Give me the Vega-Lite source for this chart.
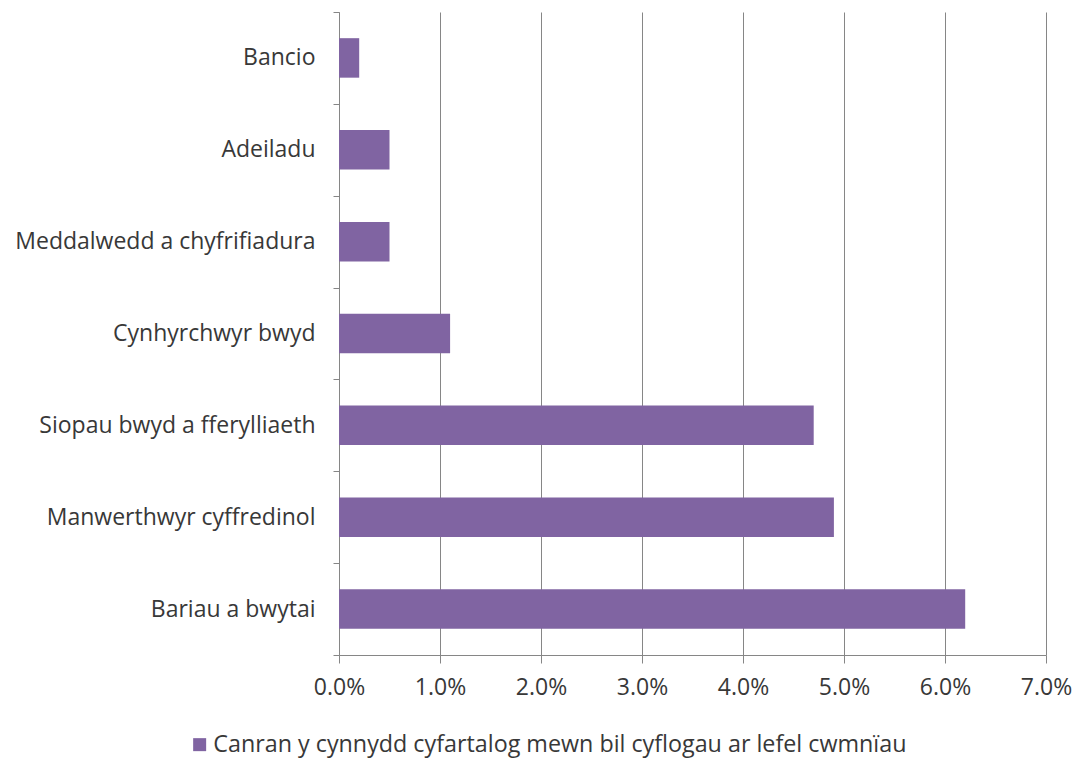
{
  "$schema": "https://vega.github.io/schema/vega-lite/v6.json",
  "width": 707,
  "height": 643,
  "autosize": {"type": "none"},
  "padding": {"left": 339, "top": 12, "right": 30, "bottom": 103},
  "background": "white",
  "config": {
    "view": {"stroke": null},
    "font": "Open Sans"
  },
  "data": {
    "values": [
      {"sector": "Bancio", "value": 0.002, "series": "Canran y cynnydd cyfartalog mewn bil cyflogau ar lefel cwmnïau"},
      {"sector": "Adeiladu", "value": 0.005, "series": "Canran y cynnydd cyfartalog mewn bil cyflogau ar lefel cwmnïau"},
      {"sector": "Meddalwedd a chyfrifiadura", "value": 0.005, "series": "Canran y cynnydd cyfartalog mewn bil cyflogau ar lefel cwmnïau"},
      {"sector": "Cynhyrchwyr bwyd", "value": 0.011, "series": "Canran y cynnydd cyfartalog mewn bil cyflogau ar lefel cwmnïau"},
      {"sector": "Siopau bwyd a fferylliaeth", "value": 0.047, "series": "Canran y cynnydd cyfartalog mewn bil cyflogau ar lefel cwmnïau"},
      {"sector": "Manwerthwyr cyffredinol", "value": 0.049, "series": "Canran y cynnydd cyfartalog mewn bil cyflogau ar lefel cwmnïau"},
      {"sector": "Bariau a bwytai", "value": 0.062, "series": "Canran y cynnydd cyfartalog mewn bil cyflogau ar lefel cwmnïau"}
    ]
  },
  "mark": {"type": "bar", "height": {"band": 0.43}},
  "encoding": {
    "y": {
      "field": "sector",
      "type": "nominal",
      "sort": null,
      "scale": {"paddingInner": 0, "paddingOuter": 0},
      "axis": {
        "title": null,
        "tickBand": "extent",
        "tickSize": 6,
        "tickColor": "#868686",
        "domainColor": "#868686",
        "labelPadding": 18,
        "labelFontSize": 23,
        "labelLimit": 400,
        "labelColor": "#383838",
        "labelFont": "Open Sans",
        "grid": false
      }
    },
    "x": {
      "field": "value",
      "type": "quantitative",
      "scale": {"domain": [0, 0.07], "nice": false},
      "axis": {
        "title": null,
        "format": ".1%",
        "values": [0, 0.01, 0.02, 0.03, 0.04, 0.05, 0.06, 0.07],
        "labelFlush": false,
        "grid": true,
        "gridColor": "#868686",
        "gridOpacity": 1,
        "tickSize": 8,
        "tickColor": "#868686",
        "domainColor": "#868686",
        "labelPadding": 13,
        "labelFontSize": 23,
        "labelColor": "#383838",
        "labelFont": "Open Sans"
      }
    },
    "color": {
      "field": "series",
      "type": "nominal",
      "scale": {"range": ["#8064A2"]},
      "legend": {
        "title": null,
        "orient": "none",
        "legendX": -151,
        "legendY": 721,
        "symbolType": "square",
        "symbolSize": 169,
        "symbolStrokeWidth": 0,
        "labelOffset": 2,
        "labelFontSize": 23.3,
        "labelColor": "#383838",
        "labelFont": "Open Sans",
        "labelLimit": 900
      }
    }
  }
}
